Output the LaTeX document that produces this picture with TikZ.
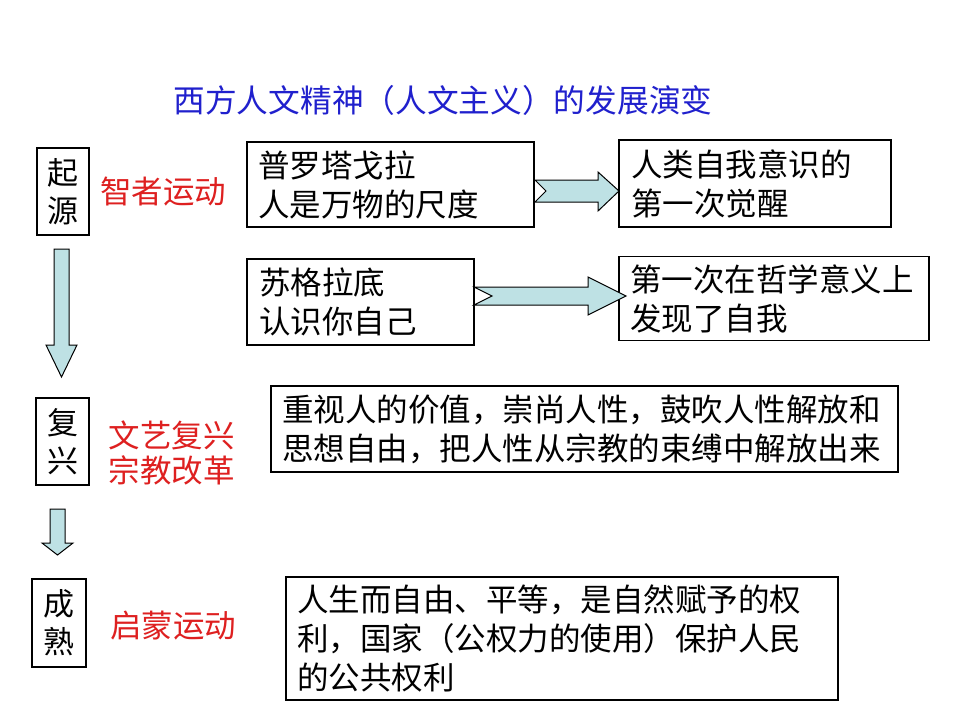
\documentclass[tikz,border=0pt]{standalone}
\usepackage{fontspec}
\newfontfamily\cjk{Noto Sans CJK SC}
\definecolor{lblred}{RGB}{222,32,32}
\definecolor{ttlblue}{RGB}{32,32,205}
\definecolor{arrfill}{RGB}{190,225,228}
\tikzset{
  txt/.style={font=\cjk\fontsize{31.5}{39}\selectfont},
  box/.style={txt, draw=black, line width=1.3pt, align=left, inner ysep=0pt},
  stage/.style={draw=black, line width=1.3pt, font=\cjk\fontsize{31}{38}\selectfont, align=center, inner sep=0pt},
  redlbl/.style={font=\cjk\fontsize{31.5}{35}\selectfont, text=lblred, align=center, inner sep=0pt},
  blockarrow/.style={draw=black, line width=1pt, fill=arrfill, line join=miter}
}
\begin{document}
\begin{tikzpicture}[x=1pt,y=-1pt]
\useasboundingbox (0,0) rectangle (960,720);
\fill[white] (0,0) rectangle (960,720);

% title
\node[font=\cjk\fontsize{31.7}{36}\selectfont, text=ttlblue, inner sep=0pt] (title) at (443,100) {西方人文精神（人文主义）的发展演变};

% stage boxes
\node[stage, minimum width=52, minimum height=87] (s1) at (63,191.5) {起\\源};
\node[stage, minimum width=53, minimum height=87] (s2) at (62.5,441.5) {复\\兴};
\node[stage, minimum width=54, minimum height=88] (s3) at (59,623) {成\\熟};

% red labels
\node[redlbl] (l1) at (163,192) {智者运动};
\node[redlbl] (l2) at (171.5,452.5) {文艺复兴\\宗教改革};
\node[redlbl] (l3) at (173,626) {启蒙运动};

% content boxes
\node[box, minimum height=85, text width=265, inner xsep=11] (p1) at (390.5,184.5) {普罗塔戈拉\\人是万物的尺度};
\node[box, minimum height=87, text width=248, inner xsep=12] (r1) at (755,183.5) {人类自我意识的\\第一次觉醒};
\node[box, minimum height=86, text width=203, inner xsep=12] (p2) at (360.5,302) {苏格拉底\\认识你自己};
\node[box, minimum height=84, text width=288, inner xsep=11] (r2) at (774,298.5) {第一次在哲学意义上\\发现了自我};
\node[box, minimum height=86, text width=605, inner xsep=11] (m) at (584.5,429) {重视人的价值，崇尚人性，鼓吹人性解放和\\思想自由，把人性从宗教的束缚中解放出来};
\node[box, minimum height=123, text width=530, inner xsep=11] (e) at (562,638.5) {人生而自由、平等，是自然赋予的权\\利，国家（公权力的使用）保护人民\\的公共权利};

% notched block arrows
\draw[blockarrow] (535,180) -- (598,180) -- (598,172) -- (619,191) -- (598,211) -- (598,202) -- (535,202) -- (546,191) -- cycle;
\draw[blockarrow] (474,287) -- (588,287) -- (588,277) -- (626,296) -- (588,315) -- (588,305) -- (474,305) -- (492,296) -- cycle;

% down block arrows
\draw[blockarrow] (54,249) -- (69,249) -- (69,345) -- (77,345) -- (61.5,377) -- (46,345) -- (54,345) -- cycle;
\draw[blockarrow] (50,509) -- (65,509) -- (65,543) -- (73,543) -- (57.5,555) -- (42,543) -- (50,543) -- cycle;
\end{tikzpicture}
\end{document}
